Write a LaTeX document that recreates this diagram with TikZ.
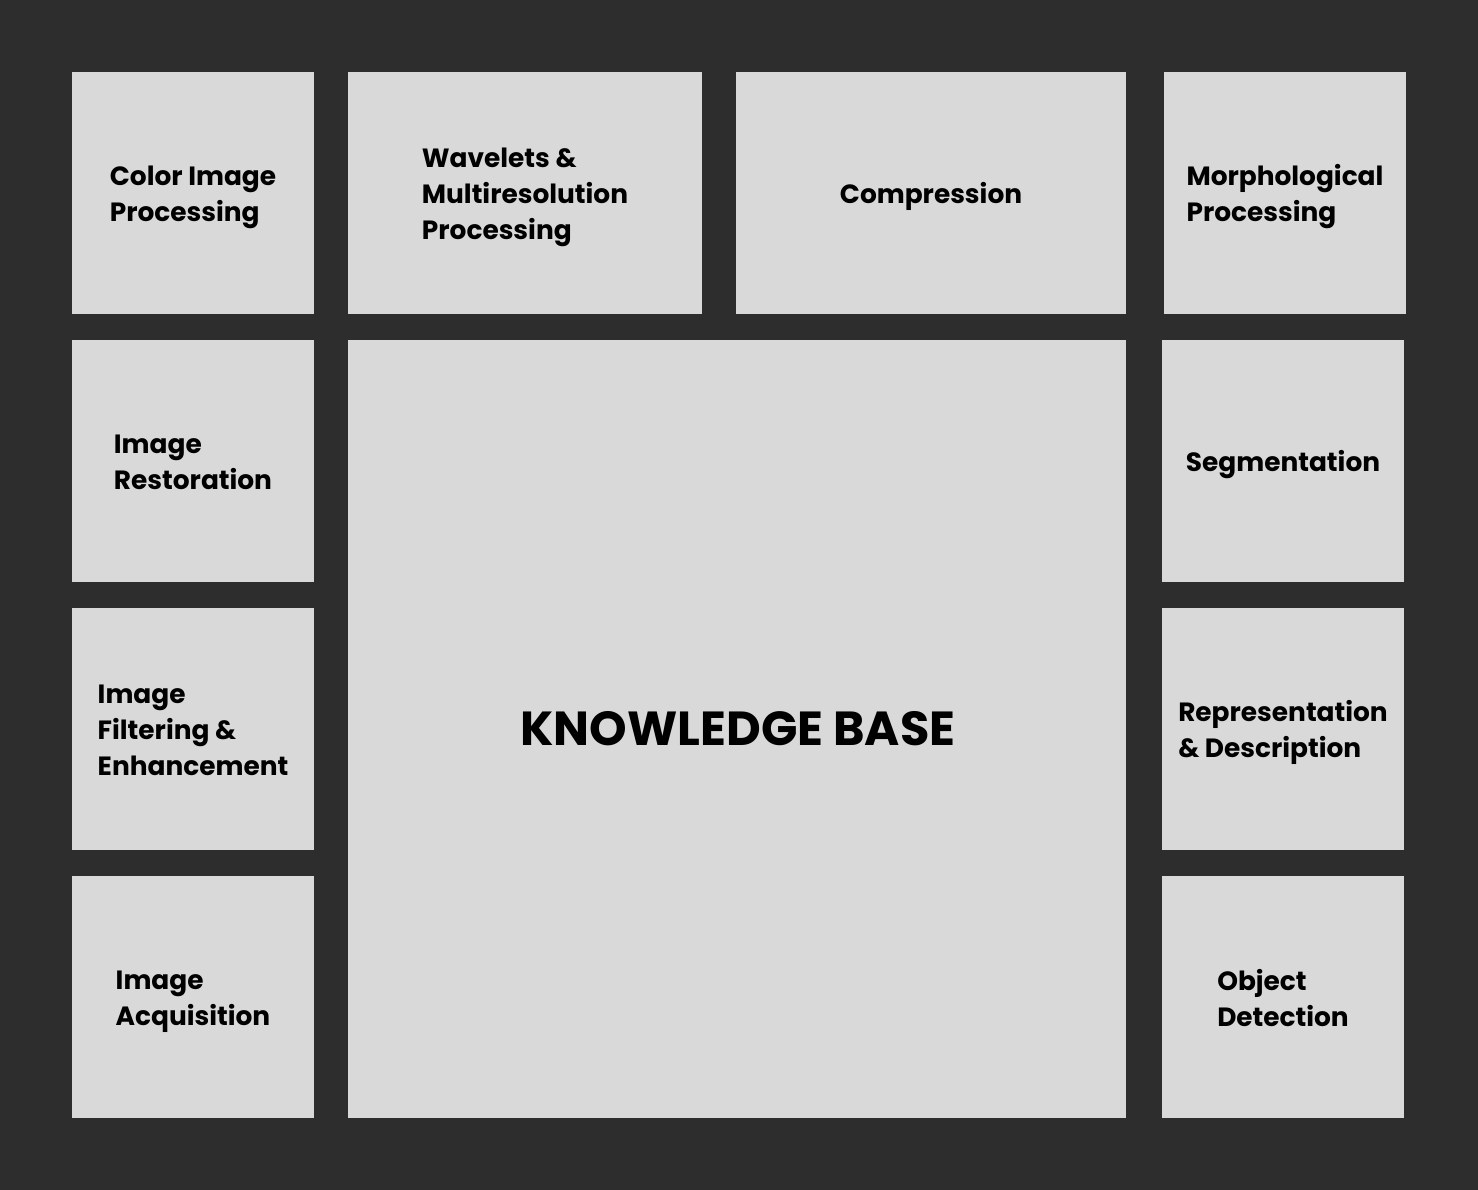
\documentclass[tikz,border=0pt]{standalone}
\usepackage{fontspec}
\setmainfont{Poppins}
\begin{document}
\begin{tikzpicture}[x=1pt,y=-1pt,
  tile/.style={fill=tilegray,draw=none},
  lbl/.style={align=left,font=\fontsize{26.4}{36}\selectfont\bfseries,text=black,inner sep=0pt},
  big/.style={font=\fontsize{47.8}{50}\selectfont\bfseries,text=black,inner sep=0pt}]
\definecolor{bg}{HTML}{2D2D2D}
\definecolor{tilegray}{HTML}{D9D9D9}
\fill[bg] (0,0) rectangle (1478,1190);
\useasboundingbox (0,0) rectangle (1478,1190);
% top row
\fill[tile] (72,72) rectangle (314,314);
\node[lbl] (color) at (193,197) {Color Image\\Processing};
\fill[tile] (348,72) rectangle (702,314);
\node[lbl] (wave) at (525,197) {Wavelets \&\\Multiresolution\\Processing};
\fill[tile] (736,72) rectangle (1126,314);
\node[lbl] (comp) at (931,196) {Compression};
\fill[tile] (1164,72) rectangle (1406,314);
\node[lbl] (morph) at (1285,197) {Morphological\\Processing};
% left column
\fill[tile] (72,340) rectangle (314,582);
\node[lbl] (rest) at (193,462) {Image\\Restoration};
\fill[tile] (72,608) rectangle (314,850);
\node[lbl] (filt) at (193,730) {Image\\Filtering \&\\Enhancement};
\fill[tile] (72,876) rectangle (314,1118);
\node[lbl] (acq) at (193,1002) {Image\\Acquisition};
% centre
\fill[tile] (348,340) rectangle (1126,1118);
\node[big] (kb) at (738,729) {KNOWLEDGE BASE};
% right column
\fill[tile] (1162,340) rectangle (1404,582);
\node[lbl] (seg) at (1283,465) {Segmentation};
\fill[tile] (1162,608) rectangle (1404,850);
\node[lbl] (rep) at (1283,732) {Representation\\\& Description};
\fill[tile] (1162,876) rectangle (1404,1118);
\node[lbl] (obj) at (1283,998) {Object\\Detection};
\end{tikzpicture}
\end{document}
